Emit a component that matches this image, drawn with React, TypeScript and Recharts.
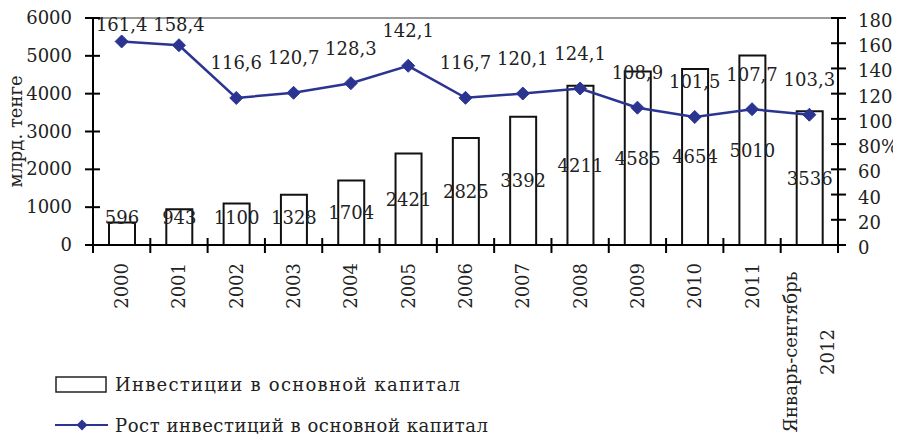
import React from 'react';
import {
  ComposedChart,
  Bar,
  Line,
  XAxis,
  YAxis,
  Legend,
  LabelList,
  ReferenceLine,
} from 'recharts';

const categories = [
  '2000', '2001', '2002', '2003', '2004', '2005', '2006', '2007', '2008', '2009', '2010', '2011',
  'Январь-сентябрь\n2012',
];
const investments = [596, 943, 1100, 1328, 1704, 2421, 2825, 3392, 4211, 4585, 4654, 5010, 3536];
const growth = [161.4, 158.4, 116.6, 120.7, 128.3, 142.1, 116.7, 120.1, 124.1, 108.9, 101.5, 107.7, 103.3];
const leftTicks = [0, 1000, 2000, 3000, 4000, 5000, 6000];
const rightTicks = [0, 20, 40, 60, 80, 100, 120, 140, 160, 180];

const seriesNames = ['Инвестиции в основной капитал', 'Рост инвестиций в основной капитал'];
const leftAxisLabel = 'млрд. тенге';

const data = categories.map((c, i) => ({ cat: c, inv: investments[i], gr: growth[i] }));

const FONT = '"DejaVu Serif", serif';
const FS = 18;
const BLUE = '#2B3591';
const TS = 8;
const TM_L = 13;
const TM_R = 12;

const fmt = (v: number) => String(v).replace('.', ',');

const LeftTick = (props: any) => {
  const { x, y, payload } = props;
  const ax = x + TS + TM_L;
  return (
    <g>
      <line x1={ax - 8} x2={ax + 7} y1={y} y2={y} stroke="#000" strokeWidth={2} />
      <text x={x} y={y} dy={6} textAnchor="end" fontFamily={FONT} fontSize={FS} fill="#222">
        {payload.value}
      </text>
    </g>
  );
};

const RightTick = (props: any) => {
  const { x, y, payload } = props;
  const ax = x - TS - TM_R;
  const label = payload.value === 80 ? '80%' : String(payload.value);
  return (
    <g>
      <line x1={ax - 7} x2={ax + 8} y1={y} y2={y} stroke="#000" strokeWidth={2} />
      <text x={x} y={y} dy={9} textAnchor="start" fontFamily={FONT} fontSize={FS} fill="#222">
        {label}
      </text>
    </g>
  );
};

const BottomTick = (props: any) => {
  const { x, y, payload, index, visibleTicksCount } = props;
  const ay = y - TS - 0;
  const off = payload.offset || 28.65;
  const lines = String(payload.value).split('\n');
  const top = ay + 18;
  const boundaries = [x - off];
  if (index === (visibleTicksCount ?? categories.length) - 1) boundaries.push(x + off);
  return (
    <g>
      {boundaries.map((bx, k) => (
        <line key={k} x1={bx} x2={bx} y1={ay - 7} y2={ay + 8} stroke="#000" strokeWidth={2} />
      ))}
      {lines.length === 1 ? (
        <text
          x={x}
          y={top}
          transform={`rotate(-90, ${x}, ${top})`}
          textAnchor="end"
          dominantBaseline="central"
          fontFamily={FONT}
          fontSize={FS}
          fill="#222"
        >
          {lines[0]}
        </text>
      ) : (
        lines.map((ln, k) => {
          const cx = x + (k === 0 ? -18.5 : 18.5);
          const cy = top + 89;
          return (
            <text
              key={k}
              x={cx}
              y={cy}
              transform={`rotate(-90, ${cx}, ${cy})`}
              textAnchor="middle"
              dominantBaseline="central"
              fontFamily={FONT}
              fontSize={FS}
              fill="#222"
            >
              {ln}
            </text>
          );
        })
      )}
    </g>
  );
};

const BarValueLabel = (props: any) => {
  const { x, y, width, height, value } = props;
  const cy = Math.min(y + height / 2, y + height - 28);
  return (
    <text
      x={x + width / 2}
      y={cy}
      textAnchor="middle"
      dominantBaseline="central"
      fontFamily={FONT}
      fontSize={FS}
      fill="#222"
    >
      {value}
    </text>
  );
};

const LineValueLabel = (props: any) => {
  const { x, y, value } = props;
  const cy = Math.max(y - 35, 24);
  return (
    <text
      x={x}
      y={cy}
      textAnchor="middle"
      dominantBaseline="central"
      fontFamily={FONT}
      fontSize={FS}
      fill="#222"
    >
      {fmt(value)}
    </text>
  );
};

const Diamond = (props: any) => {
  const { cx, cy } = props;
  if (cx == null || cy == null) return null;
  const h = 6.5;
  return (
    <path
      d={`M${cx},${cy - h} L${cx + h},${cy} L${cx},${cy + h} L${cx - h},${cy} Z`}
      fill={BLUE}
      stroke={BLUE}
      strokeWidth={1}
    />
  );
};

const renderLegend = () => (
  <div style={{ width: 901, height: 70 }}>
    <svg width={901} height={70}>
      <rect x={56} y={5} width={50} height={15} fill="#fff" stroke="#222" strokeWidth={1.5} />
      <text
        x={115}
        y={12}
        dominantBaseline="central"
        fontFamily={FONT}
        fontSize={FS}
        fill="#222"
        textLength={345}
        lengthAdjust="spacing"
      >
        {seriesNames[0]}
      </text>
      <line x1={55} x2={108} y1={53} y2={53} stroke={BLUE} strokeWidth={2} />
      <path d="M82,47.5 L87.5,53 L82,58.5 L76.5,53 Z" fill={BLUE} />
      <text
        x={115}
        y={53}
        dominantBaseline="central"
        fontFamily={FONT}
        fontSize={FS}
        fill="#222"
        textLength={373}
        lengthAdjust="spacing"
      >
        {seriesNames[1]}
      </text>
    </svg>
  </div>
);

const YLabel = (props: any) => {
  const vb = props.viewBox || {};
  const cx = (vb.x ?? 0) + 15;
  const cy = (vb.y ?? 18) + (vb.height ?? 227) / 2;
  return (
    <text
      x={cx}
      y={cy}
      transform={`rotate(-90, ${cx}, ${cy})`}
      textAnchor="middle"
      dominantBaseline="central"
      fontFamily={FONT}
      fontSize={FS}
      fill="#222"
    >
      {leftAxisLabel}
    </text>
  );
};

export default function App() {
  return (
    <div style={{ margin: -8, width: 901, height: 442, position: 'relative', background: '#fff' }}>
      <ComposedChart
        width={901}
        height={442}
        data={data}
        margin={{ top: 18, right: 0, left: 0, bottom: 0 }}
      >
        <XAxis
          dataKey="cat"
          interval={0}
          height={127}
          tickSize={TS}
          tickMargin={0}
          tickLine={false}
          tick={<BottomTick />}
          axisLine={{ stroke: '#000', strokeWidth: 2 }}
        />
        <YAxis
          yAxisId="left"
          width={93}
          domain={[0, 6000]}
          ticks={leftTicks}
          interval={0}
          tickSize={TS}
          tickMargin={TM_L}
          tickLine={false}
          tick={<LeftTick />}
          axisLine={{ stroke: '#000', strokeWidth: 2 }}
          label={<YLabel />}
        />
        <YAxis
          yAxisId="right"
          orientation="right"
          width={63}
          domain={[0, 180]}
          ticks={rightTicks}
          interval={0}
          tickSize={TS}
          tickMargin={TM_R}
          tickLine={false}
          tick={<RightTick />}
          axisLine={{ stroke: '#000', strokeWidth: 2 }}
        />
        <ReferenceLine yAxisId="left" y={6000} stroke="#9a9a9a" strokeWidth={2} />
        <Legend
          verticalAlign="bottom"
          align="left"
          content={renderLegend}
          wrapperStyle={{ left: 0, bottom: 0, width: 901, height: 70 }}
        />
        <Bar
          yAxisId="left"
          dataKey="inv"
          name={seriesNames[0]}
          fill="#fff"
          stroke="#111"
          strokeWidth={2}
          barSize={26}
          isAnimationActive={false}
        >
          <LabelList dataKey="inv" content={<BarValueLabel />} />
        </Bar>
        <Line
          yAxisId="right"
          dataKey="gr"
          name={seriesNames[1]}
          stroke={BLUE}
          strokeWidth={2.5}
          dot={<Diamond />}
          activeDot={false}
          isAnimationActive={false}
        >
          <LabelList dataKey="gr" content={<LineValueLabel />} />
        </Line>
      </ComposedChart>
    </div>
  );
}
